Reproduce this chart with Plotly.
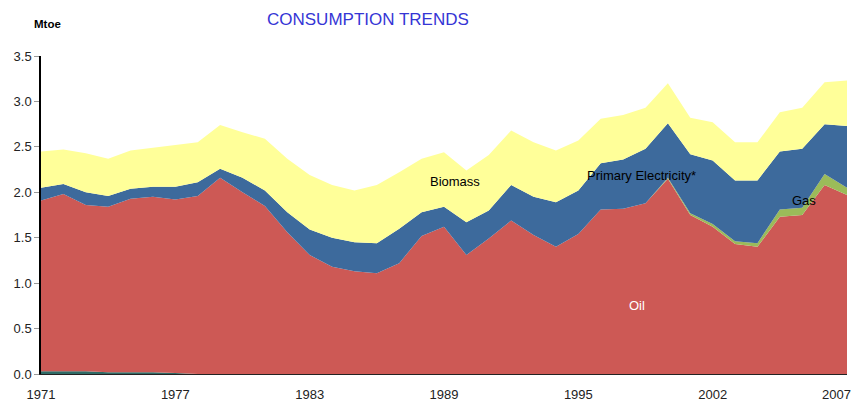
import plotly.graph_objects as go

# years and series (Mtoe)
years = list(range(1971, 2008))

coal = [0.03, 0.03, 0.03, 0.02, 0.02, 0.02, 0.01, 0.0, 0.0, 0.0,
        0.0, 0.0, 0.0, 0.0, 0.0, 0.0, 0.0, 0.0, 0.0, 0.0,
        0.0, 0.0, 0.0, 0.0, 0.0, 0.0, 0.0, 0.0, 0.0, 0.0,
        0.0, 0.0, 0.0, 0.0, 0.0, 0.0, 0.0]

oil = [1.88, 1.95, 1.83, 1.82, 1.91, 1.93, 1.91, 1.96, 2.16, 2.00,
       1.85, 1.56, 1.31, 1.18, 1.13, 1.11, 1.22, 1.52, 1.62, 1.31,
       1.49, 1.69, 1.53, 1.40, 1.54, 1.81, 1.82, 1.88, 2.15, 1.75,
       1.62, 1.43, 1.40, 1.73, 1.75, 2.08, 1.97]

gas = [0.0, 0.0, 0.0, 0.0, 0.0, 0.0, 0.0, 0.0, 0.0, 0.0,
       0.0, 0.0, 0.0, 0.0, 0.0, 0.0, 0.0, 0.0, 0.0, 0.0,
       0.0, 0.0, 0.0, 0.0, 0.0, 0.0, 0.0, 0.0, 0.01, 0.02,
       0.03, 0.03, 0.04, 0.08, 0.08, 0.12, 0.08]

electricity = [0.14, 0.11, 0.14, 0.12, 0.11, 0.11, 0.14, 0.15, 0.10, 0.16,
               0.17, 0.22, 0.28, 0.32, 0.32, 0.33, 0.38, 0.26, 0.22, 0.36,
               0.31, 0.39, 0.42, 0.49, 0.48, 0.51, 0.54, 0.60, 0.60, 0.65,
               0.70, 0.67, 0.69, 0.64, 0.65, 0.55, 0.68]

biomass = [0.40, 0.38, 0.43, 0.41, 0.42, 0.43, 0.46, 0.44, 0.48, 0.50,
           0.57, 0.59, 0.60, 0.58, 0.57, 0.64, 0.62, 0.59, 0.60, 0.57,
           0.61, 0.60, 0.60, 0.57, 0.55, 0.49, 0.49, 0.45, 0.44, 0.40,
           0.42, 0.42, 0.42, 0.43, 0.45, 0.46, 0.50]

x_tickvals = [1971, 1977, 1983, 1989, 1995, 2001]
x_ticktext = ['1971', '1977', '1983', '1989', '1995', '2002']
last_year = 2007

fig = go.Figure()

series = [
    ('Coal', coal, '#2f6b66'),
    ('Oil', oil, '#cd5955'),
    ('Gas', gas, '#9bbb59'),
    ('Primary Electricity*', electricity, '#3d6a9c'),
    ('Biomass', biomass, '#ffff99'),
]
for name, vals, col in series:
    fig.add_trace(go.Scatter(x=years, y=vals, name=name, mode='lines',
                             stackgroup='one', line=dict(width=0, color=col),
                             fillcolor=col, hoverinfo='x+y+name'))

# labels drawn on the areas
labels = [
    ('Biomass', 1989.5, 2.12, 'black'),
    ('Primary Electricity*', 1997.8, 2.18, 'black'),
    ('Gas', 2005.1, 1.91, 'black'),
    ('Oil', 1997.6, 0.75, 'white'),
]
for txt, lx, ly, c in labels:
    fig.add_annotation(x=lx, y=ly, xref='x', yref='y', text=txt, showarrow=False,
                       font=dict(size=13, color=c, family='Liberation Sans, Arial'))

# last x label, nudged left so it stays inside the window
fig.add_annotation(x=last_year, y=0, xref='x', yref='paper', xanchor='center',
                   yanchor='middle', xshift=-11, yshift=-20, text=str(last_year),
                   showarrow=False,
                   font=dict(size=13, color='#222', family='Liberation Sans, Arial'))

fig.add_annotation(x=(368 - 41) / 806, y=1, xref='paper', yref='paper',
                   yanchor='middle', yshift=37, text='CONSUMPTION TRENDS', showarrow=False,
                   font=dict(size=17, color='#3535d5', family='Liberation Sans, Arial'))
fig.add_annotation(x=(47 - 41) / 806, y=1, xref='paper', yref='paper', xanchor='center',
                   yanchor='middle', yshift=32, text='<b>Mtoe</b>', showarrow=False,
                   font=dict(size=11.5, color='black', family='Liberation Sans, Arial'))

# page body adds an 8px offset, so the figure is a bit smaller than the window
fig.update_layout(
    width=851, height=396,
    margin=dict(l=33, r=12, t=48, b=30),
    plot_bgcolor='white', paper_bgcolor='white',
    showlegend=False,
    font=dict(family='Liberation Sans, Arial', size=13, color='#222'),
    xaxis=dict(range=[1971, 2007], tickvals=x_tickvals, ticktext=x_ticktext,
               showgrid=False, zeroline=False, showline=True, linecolor='#222',
               linewidth=1, ticks='', tickfont=dict(size=13), automargin=False,
               ticklabelstandoff=8),
    yaxis=dict(range=[0, 3.5], dtick=0.5, tickformat='.1f', showgrid=False,
               zeroline=False, showline=True, linecolor='black', linewidth=1.5,
               ticks='outside', ticklen=5, tickcolor='#999', tickfont=dict(size=13),
               automargin=False),
)

fig.write_html("out.html")
